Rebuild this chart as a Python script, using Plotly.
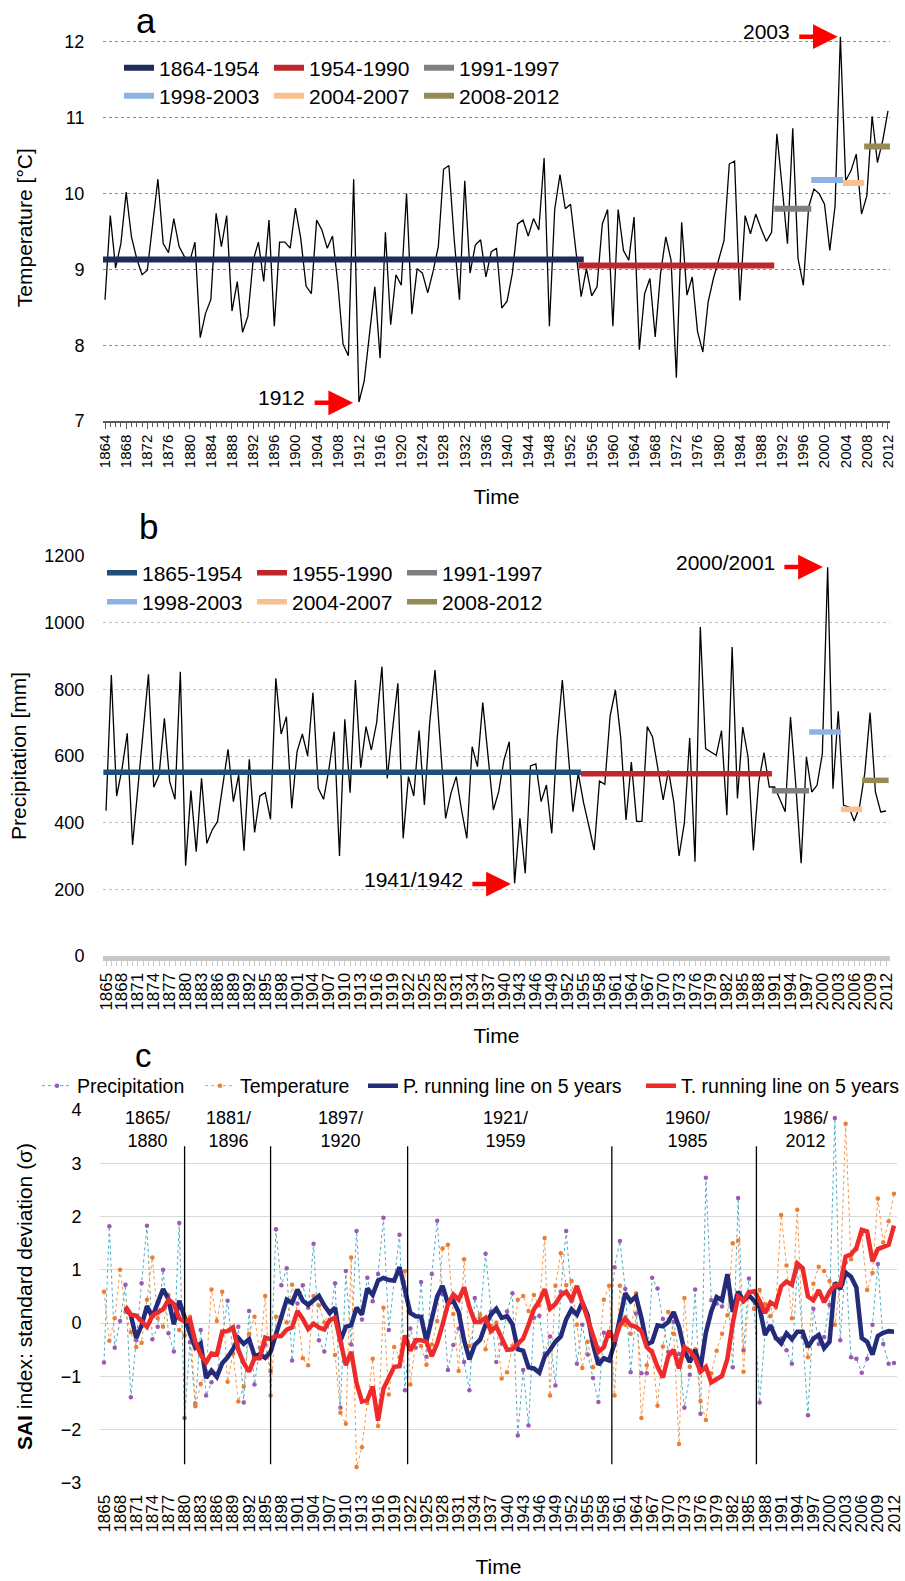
import plotly.graph_objects as go

W, H = 905, 1581
FONT = "Liberation Sans, Arial, Helvetica, sans-serif"
NARROW = "Liberation Sans Narrow, Arial Narrow, Liberation Sans, Arial, sans-serif"

# ---------------- data ----------------
years_t = list(range(1864, 2013))
years_p = list(range(1865, 2013))
years_run = list(range(1869, 2013))

temp = [
    8.60, 9.71, 9.02, 9.34, 10.02, 9.43, 9.14, 8.93, 8.99, 9.60,
    10.19, 9.34, 9.22, 9.67, 9.30, 9.17, 9.10, 9.36, 8.10, 8.42,
    8.60, 9.74, 9.30, 9.71, 8.45, 8.84, 8.17, 8.38, 9.12, 9.36,
    8.84, 9.65, 8.25, 9.36, 9.36, 9.28, 9.81, 9.41, 8.78, 8.68,
    9.65, 9.52, 9.28, 9.44, 8.82, 8.01, 7.86, 10.19, 7.25, 7.53,
    8.15, 8.77, 7.83, 9.49, 8.27, 8.93, 8.79, 10.00, 8.41, 9.01,
    8.95, 8.69, 8.97, 9.30, 10.32, 10.37, 9.40, 8.60, 10.17, 8.95,
    9.32, 9.39, 8.90, 9.23, 9.28, 8.49, 8.58, 8.95, 9.60, 9.65,
    9.44, 9.67, 9.52, 10.47, 8.25, 9.79, 10.25, 9.80, 9.86, 9.25,
    8.64, 9.01, 8.65, 8.77, 9.60, 9.79, 8.25, 9.79, 9.25, 9.12,
    9.69, 7.94, 8.68, 8.88, 8.11, 8.94, 9.43, 9.12, 7.57, 9.62,
    8.66, 8.90, 8.18, 7.91, 8.57, 8.88, 9.12, 9.38, 10.39, 10.43,
    8.59, 9.71, 9.47, 9.73, 9.54, 9.37, 9.49, 10.79, 10.08, 9.34,
    10.86, 9.14, 8.79, 9.82, 10.06, 10.00, 9.86, 9.25, 9.84, 12.07,
    10.17, 10.30, 10.52, 9.73, 9.97, 11.02, 10.41, 10.70, 11.09,
]

precip = [
    436, 843, 480, 560, 668, 333, 503, 673, 845, 506,
    543, 713, 523, 470, 853, 271, 496, 313, 533, 338,
    378, 403, 518, 620, 463, 543, 316, 590, 371, 480,
    490, 410, 833, 666, 718, 443, 613, 666, 600, 790,
    503, 470, 560, 673, 300, 710, 490, 828, 565, 688,
    618, 700, 868, 533, 680, 818, 353, 538, 480, 676,
    453, 700, 858, 640, 413, 488, 538, 438, 353, 628,
    568, 760, 588, 438, 493, 588, 643, 218, 413, 248,
    570, 576, 463, 513, 368, 648, 828, 618, 433, 548,
    460, 390, 318, 525, 515, 720, 798, 655, 408, 582,
    404, 404, 688, 657, 567, 468, 557, 462, 300, 400,
    654, 283, 987, 622, 612, 602, 676, 422, 927, 473,
    687, 597, 317, 522, 610, 507, 507, 472, 433, 717,
    512, 278, 597, 492, 512, 607, 1166, 502, 734, 452,
    447, 405, 447, 549, 730, 492, 432, 435,
]

t_periods = ["1864-1954", "1954-1990", "1991-1997", "1998-2003", "2004-2007", "2008-2012"]
t_means = [9.13, 9.05, 9.80, 10.18, 10.14, 10.62]
p_periods = ["1865-1954", "1955-1990", "1991-1997", "1998-2003", "2004-2007", "2008-2012"]
p_means = [551, 547, 496, 672, 440, 527]

sai_p = [
    -0.74, 1.82, -0.46, 0.04, 0.72, -1.39, -0.32, 0.75, 1.83, -0.30,
    -0.07, 1.00, -0.19, -0.53, 1.88, -1.78, -0.36, -1.51, -0.13, -1.36,
    -1.11, -0.95, -0.22, 0.42, -0.57, -0.07, -1.49, 0.23, -1.15, -0.46,
    -0.40, -0.90, 1.76, 0.71, 1.03, -0.70, 0.37, 0.71, 0.29, 1.49,
    -0.32, -0.53, 0.04, 0.75, -1.59, 0.98, -0.40, 1.73, 0.07, 0.85,
    0.41, 0.92, 1.98, -0.13, 0.80, 1.66, -1.26, -0.10, -0.46, 0.77,
    -0.63, 0.92, 1.92, 0.54, -0.88, -0.41, -0.10, -0.73, -1.26, 0.47,
    0.09, 1.30, 0.22, -0.73, -0.38, 0.22, 0.56, -2.11, -0.88, -1.92,
    0.10, 0.14, -0.57, -0.25, -1.17, 0.59, 1.73, 0.41, -0.76, -0.03,
    -0.59, -1.03, -1.48, -0.18, -0.24, 1.05, 1.54, 0.64, -0.92, 0.18,
    -0.94, -0.94, 0.85, 0.65, 0.08, -0.54, 0.02, -0.58, -1.59, -0.97,
    0.63, -1.70, 2.73, 0.43, 0.37, 0.31, 0.77, -0.83, 2.35, -0.51,
    0.84, 0.27, -1.49, -0.20, 0.36, -0.29, -0.29, -0.51, -0.76, 1.03,
    -0.26, -1.73, 0.27, -0.39, -0.26, 0.34, 3.85, -0.32, 1.14, -0.64,
    -0.67, -0.93, -0.67, -0.03, 1.11, -0.39, -0.76, -0.75,
]

sai_t = [
    0.59, -0.33, 0.09, 1.00, 0.21, -0.17, -0.45, -0.37, 0.44, 1.23,
    0.09, -0.07, 0.53, 0.04, -0.13, -0.23, 0.12, -1.56, -1.14, -0.90,
    0.63, 0.04, 0.59, -1.10, -0.57, -1.47, -1.19, -0.20, 0.12, -0.57,
    0.51, -1.36, 0.12, 0.12, 0.01, 0.72, 0.19, -0.66, -0.79, 0.51,
    0.33, 0.01, 0.23, -0.60, -1.68, -1.89, 1.23, -2.70, -2.33, -1.50,
    -0.67, -1.93, 0.29, -1.34, -0.45, -0.64, 0.98, -1.15, -0.35, -0.43,
    -0.78, -0.40, 0.04, 1.40, 1.47, 0.17, -0.90, 1.20, -0.43, 0.07,
    0.16, -0.49, -0.05, 0.01, -1.04, -0.92, -0.43, 0.44, 0.51, 0.23,
    0.53, 0.33, 1.60, -1.36, 0.70, 1.31, 0.71, 0.79, -0.03, -0.84,
    -0.35, -0.83, -0.67, 0.44, 0.70, -1.36, 0.70, -0.03, -0.20, 0.56,
    -1.78, -0.79, -0.52, -1.55, -0.44, 0.21, -0.20, -2.27, 0.47, -0.82,
    -0.49, -1.46, -1.82, -0.94, -0.52, -0.20, 0.15, 1.50, 1.55, -0.91,
    0.59, 0.27, 0.62, 0.36, 0.13, 0.29, 2.03, 1.08, 0.09, 2.13,
    -0.17, -0.64, 0.74, 1.06, 0.98, 0.79, -0.03, 0.76, 3.74, 1.20,
    1.38, 1.67, 0.62, 0.94, 2.34, 1.52, 1.91, 2.43,
]

run_p = [
    0.28, 0.15, -0.28, -0.04, 0.32, 0.11,
    0.38, 0.64, 0.45, -0.02, 0.42, 0.08, -0.20, -0.46, -0.38, -1.03,
    -0.89, -1.01, -0.75, -0.64, -0.49, -0.28, -0.39, -0.30, -0.61, -0.59,
    -0.65, -0.54, -0.23, 0.14, 0.44, 0.38, 0.63, 0.42, 0.34, 0.43,
    0.51, 0.33, 0.19, 0.29, -0.33, -0.07, -0.04, 0.29, 0.16, 0.65,
    0.53, 0.80, 0.85, 0.81, 0.80, 1.05, 0.61, 0.19, 0.13, 0.12,
    -0.34, 0.10, 0.50, 0.70, 0.37, 0.42, 0.21, -0.32, -0.68, -0.41,
    -0.31, -0.03, 0.16, 0.27, 0.10, 0.13, -0.02, -0.49, -0.52, -0.83,
    -0.85, -0.93, -0.63, -0.50, -0.35, -0.25, 0.07, 0.26, 0.16, 0.39,
    0.15, -0.40, -0.78, -0.66, -0.70, -0.38, 0.14, 0.56, 0.41, 0.50,
    0.10, -0.40, -0.35, -0.04, -0.06, 0.02, 0.21, -0.07, -0.52, -0.73,
    -0.50, -0.84, -0.18, 0.22, 0.49, 0.43, 0.92, 0.21, 0.59, 0.42,
    0.52, 0.42, 0.29, -0.22, -0.04, -0.27, -0.38, -0.19, -0.30, -0.16,
    -0.16, -0.45, -0.29, -0.22, -0.47, -0.35, 0.76, 0.64, 0.95, 0.87,
    0.67, -0.28, -0.35, -0.59, -0.24, -0.18, -0.15, -0.16,
]

run_t = [
    0.31, 0.16, 0.14, 0.04, -0.07, 0.14,
    0.19, 0.26, 0.44, 0.36, 0.09, 0.03, 0.07, -0.35, -0.59, -0.74,
    -0.57, -0.59, -0.16, -0.15, -0.08, -0.50, -0.75, -0.91, -0.66, -0.66,
    -0.27, -0.30, -0.24, -0.24, -0.12, -0.08, 0.23, 0.08, -0.11, -0.01,
    -0.08, -0.12, 0.06, 0.10, -0.34, -0.79, -0.54, -1.13, -1.47, -1.44,
    -1.19, -1.83, -1.23, -1.03, -0.82, -0.81, -0.23, -0.52, -0.32, -0.32,
    -0.35, -0.62, -0.38, -0.03, 0.35, 0.54, 0.44, 0.67, 0.30, 0.02,
    0.02, 0.10, -0.15, -0.06, -0.28, -0.50, -0.49, -0.39, -0.29, -0.03,
    0.26, 0.41, 0.64, 0.27, 0.36, 0.52, 0.59, 0.43, 0.70, 0.39,
    0.06, -0.25, -0.54, -0.45, -0.14, -0.34, -0.04, 0.09, -0.04, -0.07,
    -0.15, -0.45, -0.55, -0.82, -1.02, -0.62, -0.50, -0.85, -0.45, -0.52,
    -0.66, -0.91, -0.82, -1.11, -1.05, -0.99, -0.67, 0.00, 0.50, 0.42,
    0.58, 0.60, 0.42, 0.19, 0.39, 0.33, 0.69, 0.78, 0.72, 1.12,
    1.03, 0.50, 0.43, 0.62, 0.39, 0.59, 0.71, 0.71, 1.25, 1.29,
    1.41, 1.75, 1.72, 1.16, 1.39, 1.42, 1.47, 1.83,
]

phase_labels = ["1865/1880", "1881/1896", "1897/1920", "1921/1959", "1960/1985", "1986/2012"]
phase_centres = [1873.1, 1888.2, 1909.0, 1939.7, 1973.6, 1995.5]
phase_dividers = [1880, 1896, 1921.5, 1959.5, 1986.4]

# extreme-year callouts: (label, target year, target value)
t_callouts = [("2003", 2002.5, 12.07), ("1912", 1910.9, 7.24)]
p_callouts = [("2000/2001", 2000.1, 1167), ("1941/1942", 1941.3, 216)]

# ---------------- styling ----------------
t_cols = ["#1F2B5B", "#C0272D", "#7F7F7F", "#8DB3E2", "#FAC08F", "#948A54"]
p_cols = ["#1F4E79", "#C0272D", "#7F7F7F", "#8DB3E2", "#FAC08F", "#948A54"]


def px(x):
    return x / W


def py(y):
    return 1 - y / H


fig = go.Figure()

# ---- panel a ----
fig.add_trace(go.Scatter(x=years_t, y=temp, mode="lines", line=dict(color="black", width=1.3),
                         showlegend=False, xaxis="x", yaxis="y", hoverinfo="skip"))
for i, (lab, m, c) in enumerate(zip(t_periods, t_means, t_cols)):
    s, e = int(lab[:4]), int(lab[5:])
    fig.add_trace(go.Scatter(x=[s - 0.5, e + 0.5], y=[m, m], mode="lines", name=lab,
                             line=dict(color=c, width=6), xaxis="x", yaxis="y",
                             legend="legend" if i < 3 else "legend2"))

# ---- panel b ----
fig.add_trace(go.Scatter(x=years_p, y=precip, mode="lines", line=dict(color="black", width=1.3),
                         showlegend=False, xaxis="x2", yaxis="y2", hoverinfo="skip"))
for i, (lab, m, c) in enumerate(zip(p_periods, p_means, p_cols)):
    s, e = int(lab[:4]), int(lab[5:])
    fig.add_trace(go.Scatter(x=[s - 0.5, e + 0.5], y=[m, m], mode="lines", name=lab,
                             line=dict(color=c, width=5.5), xaxis="x2", yaxis="y2",
                             legend="legend3" if i < 3 else "legend4"))

# ---- panel c ----
fig.add_trace(go.Scatter(x=years_p, y=sai_p, mode="lines+markers", name="Precipitation",
                         line=dict(color="#4BACC6", width=1, dash="dot"),
                         marker=dict(color="#9B59B6", size=4.5), xaxis="x3", yaxis="y3",
                         legend="legend5"))
fig.add_trace(go.Scatter(x=years_p, y=sai_t, mode="lines+markers", name="Temperature",
                         line=dict(color="#F79646", width=1, dash="dot"),
                         marker=dict(color="#ED7D31", size=4.5), xaxis="x3", yaxis="y3",
                         legend="legend6"))
fig.add_trace(go.Scatter(x=years_run, y=run_p, mode="lines", name="P. running line on 5 years",
                         line=dict(color="#232B7A", width=4.5), xaxis="x3", yaxis="y3",
                         legend="legend7"))
fig.add_trace(go.Scatter(x=years_run, y=run_t, mode="lines", name="T. running line on 5 years",
                         line=dict(color="#EE2A2A", width=4.5), xaxis="x3", yaxis="y3",
                         legend="legend8"))

shapes = []
for d in phase_dividers:
    shapes.append(dict(type="line", xref="x3", yref="y3", x0=d, x1=d, y0=-2.65, y1=3.32,
                       line=dict(color="black", width=1.3)))

annotations = []
for txt, x, y, fs in [("a", 146, 20, 35), ("b", 148, 527, 35), ("c", 143, 1055, 33)]:
    annotations.append(dict(text=txt, x=px(x), y=py(y), xref="paper", yref="paper",
                            showarrow=False, font=dict(size=fs, color="black", family=FONT),
                            xanchor="center", yanchor="middle", borderpad=0))

for (lab, xv, yv), (xa, ya) in [(c, ("x", "y")) for c in t_callouts] + [(c, ("x2", "y2")) for c in p_callouts]:
    annotations.append(dict(text="", x=xv, y=yv, xref=xa, yref=ya, ax=-40, ay=0,
                            showarrow=True, arrowhead=2, arrowsize=1.1, arrowwidth=4.5,
                            arrowcolor="#FF0000", standoff=0))
    annotations.append(dict(text=lab, x=xv, y=yv, xref=xa, yref=ya, showarrow=False,
                            xanchor="right", yanchor="middle", xshift=-46, yshift=5,
                            font=dict(size=21, color="black", family=FONT)))

for lab, xc in zip(phase_labels, phase_centres):
    top, bot = lab.split("/")
    annotations.append(dict(text=top + "/<br>" + bot, x=xc, y=3.64, xref="x3", yref="y3",
                            showarrow=False, yanchor="middle",
                            font=dict(size=18, color="black", family=NARROW)))

leg_common = dict(orientation="h", xanchor="left", yanchor="middle", bgcolor="rgba(0,0,0,0)",
                  font=dict(size=21, color="black", family=FONT), itemwidth=30,
                  entrywidth=105, entrywidthmode="pixels", tracegroupgap=0)
leg_c = dict(orientation="h", xanchor="left", yanchor="middle", bgcolor="rgba(0,0,0,0)",
             font=dict(size=19.5, color="black", family=FONT), itemwidth=30)

title_font = dict(size=21, color="black", family=FONT)

fig.update_layout(
    width=W, height=H, margin=dict(l=0, r=0, t=0, b=0),
    paper_bgcolor="white", plot_bgcolor="white",
    font=dict(family=FONT, color="black"),
    shapes=shapes, annotations=annotations,
    legend=dict(x=px(119), y=py(68), **leg_common),
    legend2=dict(x=px(119), y=py(96), **leg_common),
    legend3=dict(x=px(102), y=py(573), **leg_common),
    legend4=dict(x=px(102), y=py(602), **leg_common),
    legend5=dict(x=px(37), y=py(1086), **leg_c),
    legend6=dict(x=px(200), y=py(1086), **leg_c),
    legend7=dict(x=px(363), y=py(1086), **leg_c),
    legend8=dict(x=px(641), y=py(1086), **leg_c),
    xaxis=dict(domain=[px(103), px(890)], range=[1863.62, 2012.38], anchor="y", automargin=False,
               tick0=1864, dtick=4, tickangle=-90, tickfont=dict(size=15),
               ticks="outside", ticklen=6, tickcolor="#595959", showline=True,
               linecolor="#595959", linewidth=1.5, showgrid=False, zeroline=False,
               minor=dict(dtick=1, tick0=1864, ticks="outside", ticklen=4, tickcolor="#595959"),
               title=dict(text="Time", font=title_font, standoff=22)),
    yaxis=dict(domain=[py(421), py(34.4)], range=[7, 12.1], anchor="x", tick0=7, dtick=1,
               automargin=False,
               gridcolor="#8C8C8C", griddash="dot", gridwidth=1, zeroline=False, showline=False,
               ticks="outside", ticklen=14, tickcolor="rgba(0,0,0,0)", tickfont=dict(size=18),
               title=dict(text="Temperature [°C]", font=title_font, standoff=26)),
    xaxis2=dict(domain=[px(103), px(890)], range=[1864.43, 2012.75], anchor="y2", automargin=False,
                tick0=1865, dtick=3, tickangle=-90, tickfont=dict(size=17),
                ticks="outside", ticklen=5, tickcolor="#C8C8C8", showline=True,
                linecolor="#C8C8C8", linewidth=5, showgrid=False, zeroline=False,
                minor=dict(dtick=1, tick0=1865, ticks="outside", ticklen=5, tickcolor="#C8C8C8"),
                title=dict(text="Time", font=title_font, standoff=20)),
    yaxis2=dict(domain=[py(956), py(556)], range=[0, 1200], anchor="x2", tick0=0, dtick=200,
                automargin=False,
                gridcolor="#BFBFBF", griddash="dot", gridwidth=1, zeroline=False, showline=False,
                ticks="outside", ticklen=14, tickcolor="rgba(0,0,0,0)", tickfont=dict(size=18),
                title=dict(text="Precipitation [mm]", font=title_font, standoff=12)),
    xaxis3=dict(domain=[px(100), px(897)], range=[1864.26, 2012.56], anchor="y3", automargin=False,
                tick0=1865, dtick=3, tickangle=-90, tickfont=dict(size=17),
                ticks="outside", ticklen=4, tickcolor="rgba(0,0,0,0)", showline=False,
                showgrid=False, zeroline=False,
                title=dict(text="Time", font=title_font, standoff=27)),
    yaxis3=dict(domain=[py(1483), py(1110)], range=[-3, 4], anchor="x3", tick0=-3, dtick=1,
                automargin=False,
                gridcolor="#D9D9D9", gridwidth=1, zeroline=False, showline=False,
                ticks="outside", ticklen=14, tickcolor="rgba(0,0,0,0)", tickfont=dict(size=18),
                title=dict(text="<b>SAI</b> index: standard deviation (σ)", font=title_font,
                           standoff=22)),
)

fig.write_html("out.html", config={"displayModeBar": False},
               post_script="document.body.style.margin='0';document.body.style.overflow='hidden';")
